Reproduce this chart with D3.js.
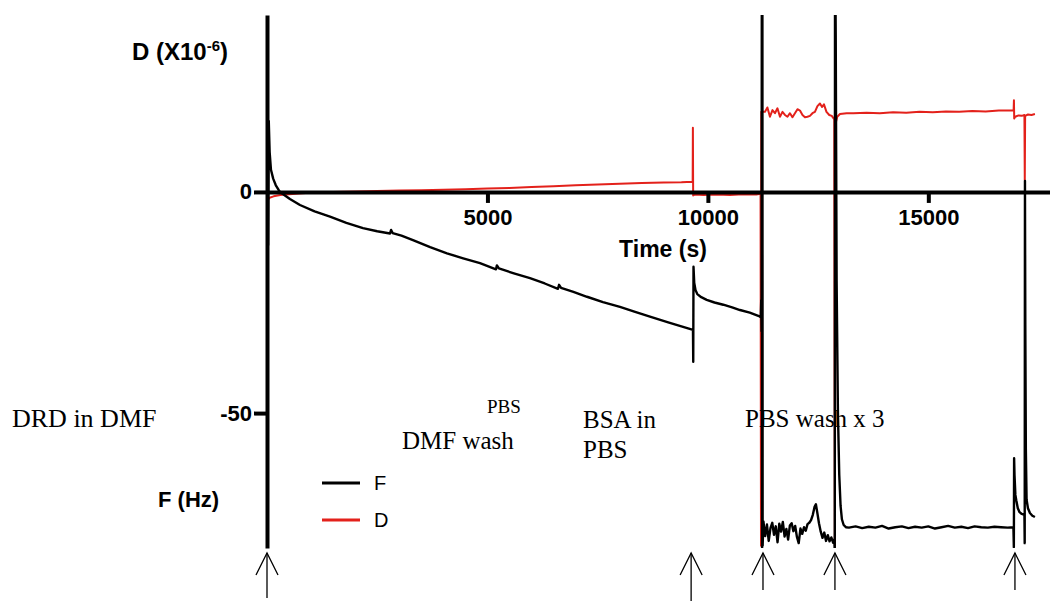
<!DOCTYPE html>
<html>
<head>
<meta charset="utf-8">
<script src="https://cdn.jsdelivr.net/npm/d3@7"></script>
<style>
  html, body { margin: 0; padding: 0; background: #fff; }
  svg { display: block; }
  .axis-lab { font-family: "Liberation Sans", Arial, sans-serif; font-weight: bold; }
  .note { font-family: "Liberation Serif", "Times New Roman", serif; fill: #000; }
</style>
</head>
<body>
<svg id="chart" width="1050" height="601"></svg>
<script>
// QCM-D trace: frequency shift F (Hz) and dissipation D (x10^-6) against time (s)

const xTicks = [5000, 10000, 15000];
const yTicks = [0, -50];

// Frequency trace (time in s, F in Hz)
const fTime = [
  0, 10, 25, 40, 60, 90, 140, 200, 260,
  295, 520, 748, 1080, 1429, 1800, 2177, 2500, 2790, 2815, 2850, 3050, 3311, 3700, 4082, 4450, 4831,
  5194, 5215, 5260, 5600, 5965, 6300, 6600, 6625, 6670, 6950, 7258, 7620, 8006, 8350, 8686, 9100, 9400, 9662,
  9668, 9674, 9690, 9720, 9760, 9850, 9973, 10150, 10349, 10550, 10728, 10950, 11143, 11200, 11210, 11218,
  11224, 11230, 11236, 11242,
  11260, 11300, 11340, 11380, 11420, 11460, 11500, 11540, 11580, 11620, 11660, 11700, 11740, 11780,
  11820, 11860, 11900, 11940, 11980, 12020, 12060, 12100, 12140, 12180, 12220, 12260, 12300, 12340,
  12380, 12420, 12450, 12480, 12520, 12560, 12600, 12640, 12680, 12720, 12760, 12800, 12840, 12870,
  12878, 12884, 12900, 12920, 12950, 12980, 13010, 13040, 13080, 13130,
  13200, 13350, 13500, 13650, 13800, 13950, 14100, 14250, 14400, 14550, 14700, 14850, 15000, 15150,
  15300, 15450, 15600, 15750, 15900, 16050, 16200, 16350, 16500, 16650, 16800, 16930,
  16940, 16946, 16955, 16975, 16995, 17030, 17070, 17120, 17180,
  17186, 17192, 17200, 17212, 17229, 17260, 17305, 17360, 17418
];
const fHz = [
  8, 19.5, -12, 16, 9, 5, 3, 1.5, 0.5,
  0, -1.6, -2.95, -4.4, -5.6, -7.0, -8.2, -8.9, -9.4, -8.6, -9.3, -9.9, -10.9, -12.5, -13.9, -15.0, -16.1,
  -17.5, -16.6, -17.3, -18.4, -19.5, -20.7, -21.9, -21.0, -21.7, -22.6, -23.7, -24.9, -26.0, -27.1, -28.2, -29.5, -30.4, -31.2,
  -38.4, -16.9, -20.5, -22.2, -23.1, -23.8, -24.4, -25.0, -25.5, -26.1, -26.7, -27.3, -28.0, -28.3, -24.5, -31.5,
  60, -83, 60, -80,
  -74.5, -77.8, -75.2, -78.9, -76.0, -74.8, -77.5, -75.6, -79.2, -75.0, -76.8, -74.6, -77.9, -76.2,
  -78.6, -75.4, -74.9, -76.7, -75.5, -78.0, -79.4, -76.1, -77.3, -75.8, -76.6, -75.1, -74.8, -74.2,
  -73.0, -71.2, -70.6, -72.4, -74.9, -76.8, -78.2, -77.0, -78.9, -77.6, -79.0, -78.1, -79.3, -78.5,
  -82, 60, 35, -20, -50, -64, -71, -74, -75.3, -75.8,
  -75.9, -75.6, -76.0, -75.7, -75.9, -75.5, -76.1, -75.8, -75.6, -76.0, -75.7, -75.9, -75.6, -76.1,
  -75.8, -75.5, -75.9, -75.7, -76.0, -75.6, -75.8, -75.9, -75.7, -75.8, -75.9, -75.8,
  -80.3, -60.2, -64, -68.5, -69.7, -71.5, -72.4, -72.8, -73.0,
  -79.4, 2.5, -30, -58, -69.6, -71.5, -72.6, -73.2, -73.5
];

// Dissipation trace (time in s, D in units of 10^-6)
const dTime = [
  0, 20, 60, 150, 300, 500, 800, 1100, 1500, 2000, 2500, 3000, 3500, 4000, 4500, 5000, 5500,
  6000, 6500, 7000, 7500, 8000, 8500, 9000, 9400, 9655,
  9660, 9666, 9700, 9900, 10200, 10500, 10800, 11100, 11195, 11205, 11212,
  11295, 11350, 11408, 11465, 11521, 11578, 11635, 11692, 11748, 11805, 11862, 11918, 11975, 12032,
  12089, 12146, 12202, 12258, 12315, 12372, 12428, 12485, 12542, 12590, 12633, 12690, 12753, 12810,
  12867, 12880, 12898, 12935, 12996, 13147,
  13300, 13600, 13900, 14200, 14500, 14800, 15100, 15400, 15700, 16000, 16300, 16600, 16900,
  16935, 16942, 16948, 16970, 17050, 17120, 17180, 17188, 17196, 17260, 17340, 17418
];
const dVal = [
  -0.5, -1.8, -1.3, -1.0, -0.7, -0.5, -0.3, -0.1, 0.0, 0.1, 0.2, 0.3, 0.4, 0.5, 0.6, 0.75, 0.9,
  1.1, 1.3, 1.5, 1.7, 1.85, 2.0, 2.15, 2.2, 2.3,
  14.5, -0.8, -0.6, -0.7, -0.6, -0.7, -0.5, -0.6, -0.4, -80, 18.1,
  18.1, 19.1, 17.0, 18.5, 17.8, 18.9, 17.0, 18.1, 17.4, 17.0, 17.8, 16.9, 17.8, 18.7,
  18.4, 17.4, 16.9, 17.0, 17.2, 17.8, 18.1, 19.4, 20.0, 19.2, 19.8, 18.1, 17.4, 17.2,
  16.4, -80, 15.5, 17.0, 17.6, 17.8,
  17.8, 17.9, 17.8, 18.0, 17.9, 18.1, 18.0, 18.2, 18.1, 18.3, 18.2, 18.4, 18.4,
  18.5, 20.7, 16.6, 17.0, 17.3, 17.2, 17.4, 2.7, 17.2, 17.5, 17.4, 17.6
];

// Injection markers (s) and the step names written below the plot
const arrowTimes = [0, 9620, 11250, 12882, 16965];
const arrowEnds = [598, 604, 590, 590, 590];
const notes = [
  { text: "DRD in DMF", x: 12, y: 427, size: 26 },
  { text: "PBS", x: 487, y: 413, size: 19 },
  { text: "DMF wash", x: 402, y: 449, size: 25 },
  { text: "BSA in", x: 583, y: 428, size: 25 },
  { text: "PBS", x: 583, y: 458, size: 25 },
  { text: "PBS wash x 3", x: 745, y: 427, size: 25 }
];

const RED = "#e3211b";
const svg = d3.select("#chart");

const x = d3.scaleLinear().domain([0, 17760]).range([267, 1050]);
const y = d3.scaleLinear().domain([-80.5, 40]).range([548, 15]);

svg.append("defs").append("clipPath").attr("id", "plotClip")
  .append("rect").attr("x", 267).attr("y", 15).attr("width", 783).attr("height", 533);

const lineOf = (ts, vs) => d3.line().x((d, i) => x(ts[i])).y((d, i) => y(vs[i]))(vs);

const plot = svg.append("g").attr("clip-path", "url(#plotClip)");
plot.append("path")
  .attr("d", lineOf(dTime, dVal))
  .attr("fill", "none").attr("stroke", RED).attr("stroke-width", 2)
  .attr("stroke-linejoin", "round");
plot.append("path")
  .attr("d", lineOf(fTime, fHz))
  .attr("fill", "none").attr("stroke", "#000").attr("stroke-width", 2.4)
  .attr("stroke-linejoin", "round");

// Axes (plain hyphen for negative tick labels)
const xAxis = svg.append("g").attr("transform", `translate(0,${y(0)})`)
  .call(d3.axisBottom(x).tickValues(xTicks).tickFormat(d => String(d))
    .tickSize(11).tickSizeOuter(0).tickPadding(6));
const yAxis = svg.append("g").attr("transform", `translate(${x(0)},0)`)
  .call(d3.axisLeft(y).tickValues(yTicks).tickFormat(d => String(d))
    .tickSize(13).tickSizeOuter(0).tickPadding(2));
[xAxis, yAxis].forEach(g => {
  g.select(".domain").attr("stroke", "#000").attr("stroke-width", 4);
  g.selectAll(".tick line").attr("stroke", "#000").attr("stroke-width", 4);
  g.selectAll(".tick text").attr("fill", "#000")
    .attr("font-family", "Liberation Sans, Arial, sans-serif")
    .attr("font-weight", "bold").attr("font-size", 22);
});

// Axis titles
svg.append("text").attr("class", "axis-lab").attr("x", 663).attr("y", 257)
  .attr("text-anchor", "middle").attr("font-size", 23).text("Time (s)");
const dLab = svg.append("text").attr("class", "axis-lab").attr("x", 132).attr("y", 60)
  .attr("font-size", 24);
dLab.append("tspan").text("D (X10");
dLab.append("tspan").attr("dy", -9).attr("font-size", 15).text("-6");
dLab.append("tspan").attr("dy", 9).text(")");
svg.append("text").attr("class", "axis-lab").attr("x", 158).attr("y", 507)
  .attr("font-size", 22).text("F (Hz)");

// Legend
const legend = [{ name: "F", color: "#000", y: 483 }, { name: "D", color: RED, y: 520 }];
const lg = svg.append("g").selectAll("g").data(legend).join("g");
lg.append("line").attr("x1", 322).attr("x2", 360).attr("y1", d => d.y).attr("y2", d => d.y)
  .attr("stroke", d => d.color).attr("stroke-width", 3);
lg.append("text").attr("x", 374).attr("y", d => d.y + 7)
  .attr("font-family", "Liberation Sans, Arial, sans-serif").attr("font-size", 20)
  .text(d => d.name);

// Injection arrows
const arr = svg.append("g").attr("stroke", "#000").attr("stroke-width", 1.3).attr("fill", "none");
arrowTimes.forEach((t, i) => {
  const ax = x(t);
  arr.append("line").attr("x1", ax).attr("x2", ax).attr("y1", 553).attr("y2", arrowEnds[i]);
  arr.append("path").attr("d", `M${ax - 11},575L${ax},553L${ax + 11},575`);
});

// Step annotations
svg.append("g").selectAll("text").data(notes).join("text")
  .attr("class", "note")
  .attr("x", d => d.x).attr("y", d => d.y)
  .attr("font-size", d => d.size)
  .text(d => d.text);
</script>
</body>
</html>
